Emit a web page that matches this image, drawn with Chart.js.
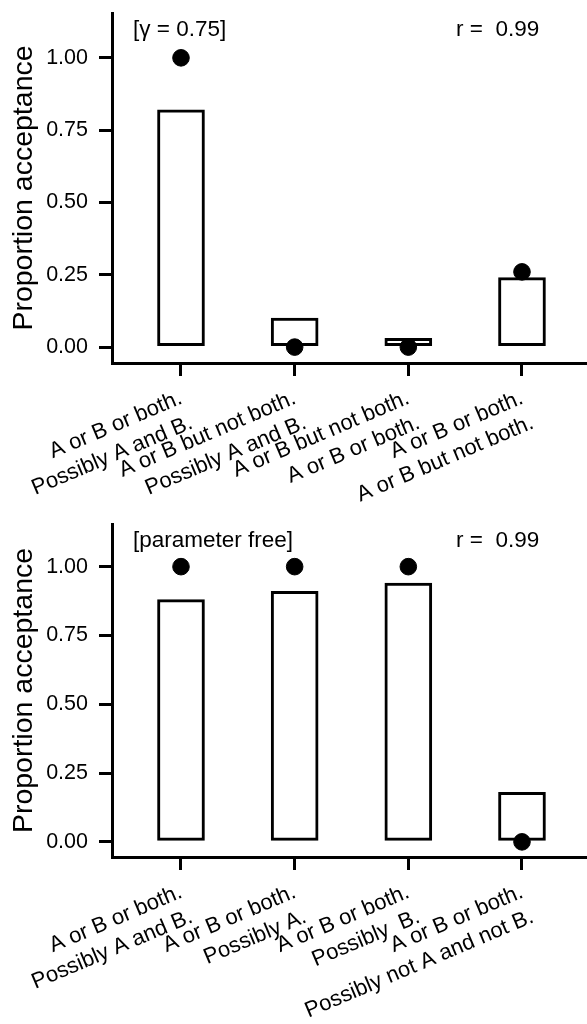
<!DOCTYPE html>
<html>
<head>
<meta charset="utf-8">
<script src="https://cdn.jsdelivr.net/npm/chart.js@4.4.1/dist/chart.umd.min.js"></script>
<style>
  html, body { margin: 0; padding: 0; background: #fff; }
  .panel { position: absolute; left: 0; width: 587px; height: 512px; }
  #p1 { top: 0; }
  #p2 { top: 512px; }
</style>
</head>
<body>
<div class="panel" id="p1"><canvas id="c1" width="587" height="512"></canvas></div>
<div class="panel" id="p2"><canvas id="c2" width="587" height="512"></canvas></div>
<script>
// ---- data ----
const categoriesTop = [
  ["A or B or both.", "Possibly A and B."],
  ["A or B but not both.", "Possibly A and B."],
  ["A or B but not both.", "A or B or both."],
  ["A or B or both.", "A or B but not both."]
];
const predictedTop = [0.82, 0.10, 0.03, 0.24];   // bars (model)
const observedTop  = [1.00, 0.00, 0.00, 0.26];   // dots (data)
const noteTop = "[\u03b3 = 0.75]";
const corrTop = "r =  0.99";

const categoriesBottom = [
  ["A or B or both.", "Possibly A and B."],
  ["A or B or both.", "Possibly A."],
  ["A or B or both.", "Possibly  B."],
  ["A or B or both.", "Possibly not A and not B."]
];
const predictedBottom = [0.88, 0.91, 0.94, 0.18];
const observedBottom  = [1.00, 1.00, 1.00, 0.00];
const noteBottom = "[parameter free]";
const corrBottom = "r =  0.99";

const yTickValues = [0, 0.25, 0.5, 0.75, 1.0];
const yTitle = "Proportion acceptance";

// ---- chart builder ----
const FONT = "'Liberation Sans', Arial, Helvetica, sans-serif";

function makePanel(canvasId, cats, bars, dots, note, corr, cfg) {
  const pos = cats.map((_, i) => i + 1);
  const annot = {
    id: 'annot',
    afterDraw(chart) {
      const ctx = chart.ctx, a = chart.chartArea;
      ctx.save();
      ctx.fillStyle = '#000';
      ctx.font = '22.5px ' + FONT;
      ctx.textBaseline = 'middle';
      ctx.textAlign = 'left';
      ctx.fillText(note, a.left + 21, a.top + 17);
      ctx.fillText(corr, a.left + 344, a.top + 17);
      ctx.restore();
    }
  };
  return new Chart(document.getElementById(canvasId), {
    type: 'bar',
    data: {
      datasets: [
        {
          type: 'scatter',
          data: pos.map((x, i) => ({ x: x, y: dots[i] })),
          backgroundColor: '#000',
          borderColor: '#000',
          pointRadius: 8.3,
          pointHoverRadius: 8.3,
          order: 0
        },
        {
          type: 'bar',
          data: pos.map((x, i) => ({ x: x, y: bars[i] })),
          backgroundColor: '#fff',
          borderColor: '#000',
          borderWidth: 3,
          borderSkipped: false,
          barThickness: 47,
          order: 1
        }
      ]
    },
    options: {
      responsive: false,
      animation: false,
      events: [],
      layout: { autoPadding: false, padding: { top: cfg.top, left: 0, right: 0, bottom: 0 } },
      plugins: { legend: { display: false }, tooltip: { enabled: false } },
      scales: {
        x: {
          type: 'linear',
          min: 0.393,
          max: 4.572,
          offset: false,
          afterBuildTicks: (s) => { s.ticks = pos.map(v => ({ value: v })); },
          afterFit: (s) => { s.height = cfg.xh; s.paddingLeft = 0; s.paddingRight = 0; },
          grid: { offset: false, drawOnChartArea: false, drawTicks: true, tickLength: 13, color: '#000', lineWidth: 3 },
          border: { display: true, color: '#000', width: 3 },
          ticks: {
            autoSkip: false,
            minRotation: 23,
            maxRotation: 23,
            padding: 9,
            color: '#000',
            font: { family: FONT, size: 22, lineHeight: 1.22 },
            callback: (v) => cats[Math.round(v) - 1]
          }
        },
        y: {
          type: 'linear',
          min: -0.055,
          max: 1.155,
          afterBuildTicks: (s) => { s.ticks = yTickValues.map(v => ({ value: v })); },
          afterFit: (s) => { s.width = 112; s.paddingTop = 0; s.paddingBottom = 0; },
          grid: { drawOnChartArea: false, drawTicks: true, tickLength: 13, color: '#000', lineWidth: 3 },
          border: { display: true, color: '#000', width: 3 },
          ticks: {
            padding: 11,
            color: '#000',
            font: { family: FONT, size: 21.5 },
            callback: (v) => Number(v).toFixed(2)
          },
          title: {
            display: true,
            text: yTitle,
            color: '#000',
            font: { family: FONT, size: 28.5 },
            padding: { top: 7, bottom: 0 }
          }
        }
      }
    },
    plugins: [annot]
  });
}

makePanel('c1', categoriesTop, predictedTop, observedTop, noteTop, corrTop, { top: 13, xh: 149 });
makePanel('c2', categoriesBottom, predictedBottom, observedBottom, noteBottom, corrBottom, { top: 12, xh: 167 });
</script>
</body>
</html>
